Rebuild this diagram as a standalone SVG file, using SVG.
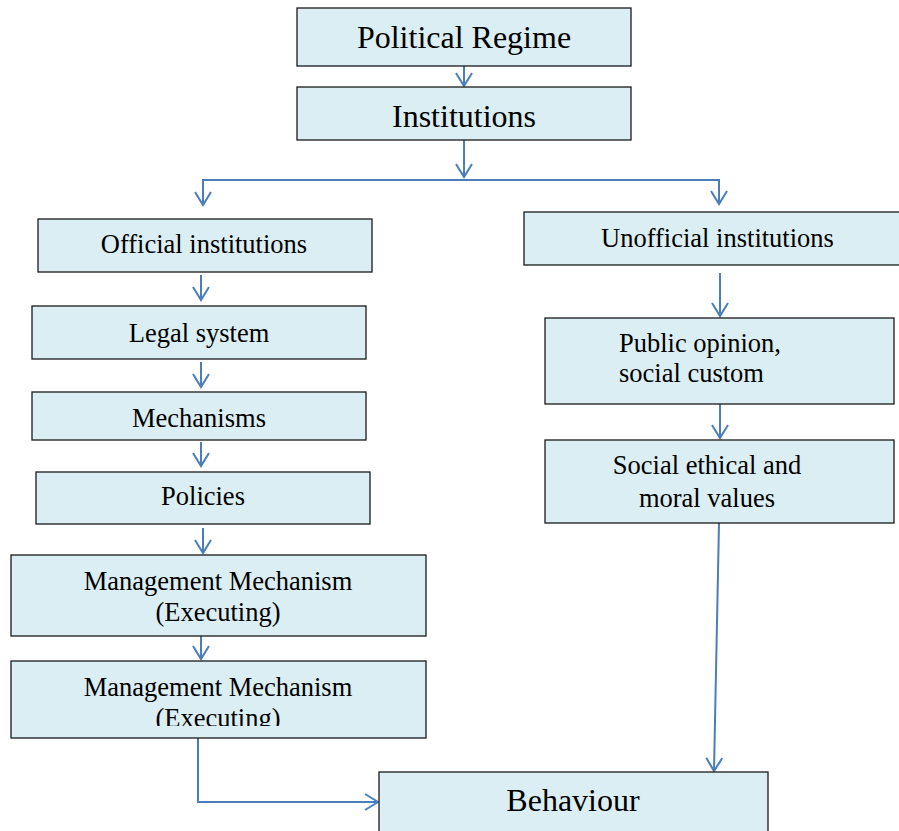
<svg xmlns="http://www.w3.org/2000/svg" width="899" height="831" viewBox="0 0 899 831">
<style>
.box{fill:#DAEEF3;stroke:#1a1a1a;stroke-width:1.3}
.t{font-family:"Liberation Serif","Times New Roman",serif;fill:#000}
.big{font-size:32px}
.med{font-size:26.5px}
.c{text-anchor:middle}
.con{fill:none;stroke:#4A7EBB;stroke-width:2}
</style>
<defs>
<marker id="ah" markerUnits="userSpaceOnUse" markerWidth="20" markerHeight="20" refX="14" refY="9" orient="auto" viewBox="0 0 20 20">
<path d="M1,1 L14,9 L1,17" fill="none" stroke="#4A7EBB" stroke-width="2"/>
</marker>
<clipPath id="clipMM2"><rect x="11" y="661" width="415" height="65"/></clipPath>
</defs>
<g id="connectors">
<line class="con" x1="464" y1="62" x2="464" y2="86" marker-end="url(#ah)"/>
<line class="con" x1="464" y1="140" x2="464" y2="177" marker-end="url(#ah)"/>
<polyline class="con" points="203,204 203,180 719,180 719,204"/>
<line class="con" x1="203" y1="180" x2="203" y2="205" marker-end="url(#ah)"/>
<line class="con" x1="719" y1="180" x2="719" y2="204" marker-end="url(#ah)"/>
<line class="con" x1="201" y1="275" x2="201" y2="300" marker-end="url(#ah)"/>
<line class="con" x1="201" y1="362" x2="201" y2="387" marker-end="url(#ah)"/>
<line class="con" x1="201" y1="442" x2="201" y2="466" marker-end="url(#ah)"/>
<line class="con" x1="203" y1="528" x2="203" y2="553" marker-end="url(#ah)"/>
<line class="con" x1="201" y1="636" x2="201" y2="659" marker-end="url(#ah)"/>
<polyline class="con" points="198,738 198,802 378,802" marker-end="url(#ah)"/>
<line class="con" x1="720" y1="273" x2="720" y2="316" marker-end="url(#ah)"/>
<line class="con" x1="720" y1="404" x2="720" y2="438" marker-end="url(#ah)"/>
<line class="con" x1="719" y1="523" x2="714" y2="771" marker-end="url(#ah)"/>
</g>
<g id="political-regime">
<rect class="box" x="297" y="8" width="334" height="58"/>
<text class="t big c" x="464" y="48">Political Regime</text>
</g>
<g id="institutions">
<rect class="box" x="297" y="87" width="334" height="53"/>
<text class="t big c" x="464" y="127">Institutions</text>
</g>
<g id="official-institutions">
<rect class="box" x="38" y="219" width="334" height="53"/>
<text class="t med c" x="204" y="253">Official institutions</text>
</g>
<g id="legal-system">
<rect class="box" x="32" y="306" width="334" height="53"/>
<text class="t med c" x="199" y="342">Legal system</text>
</g>
<g id="mechanisms">
<rect class="box" x="32" y="392" width="334" height="48"/>
<text class="t med c" x="199" y="427">Mechanisms</text>
</g>
<g id="policies">
<rect class="box" x="36" y="472" width="334" height="52"/>
<text class="t med c" x="203" y="505">Policies</text>
</g>
<g id="management-mechanism-1">
<rect class="box" x="11" y="555" width="415" height="81"/>
<text class="t med c" x="218" y="590">Management Mechanism</text>
<text class="t med c" x="218" y="621">(Executing)</text>
</g>
<g id="management-mechanism-2">
<rect class="box" x="11" y="661" width="415" height="77"/>
<text class="t med c" x="218" y="696">Management Mechanism</text>
<text class="t med c" x="218" y="727" clip-path="url(#clipMM2)">(Executing)</text>
</g>
<g id="unofficial-institutions">
<rect class="box" x="524" y="212" width="380" height="53"/>
<text class="t med c" x="717.5" y="247">Unofficial institutions</text>
</g>
<g id="public-opinion">
<rect class="box" x="545" y="318" width="349" height="86"/>
<text class="t med" x="619" y="352">Public opinion,</text>
<text class="t med" x="619" y="382">social custom</text>
</g>
<g id="social-ethical">
<rect class="box" x="545" y="440" width="349" height="83"/>
<text class="t med c" x="707" y="474">Social ethical and</text>
<text class="t med c" x="707" y="507">moral values</text>
</g>
<g id="behaviour">
<rect class="box" x="379" y="772" width="389" height="70"/>
<text class="t big c" x="573" y="811">Behaviour</text>
</g>
</svg>
